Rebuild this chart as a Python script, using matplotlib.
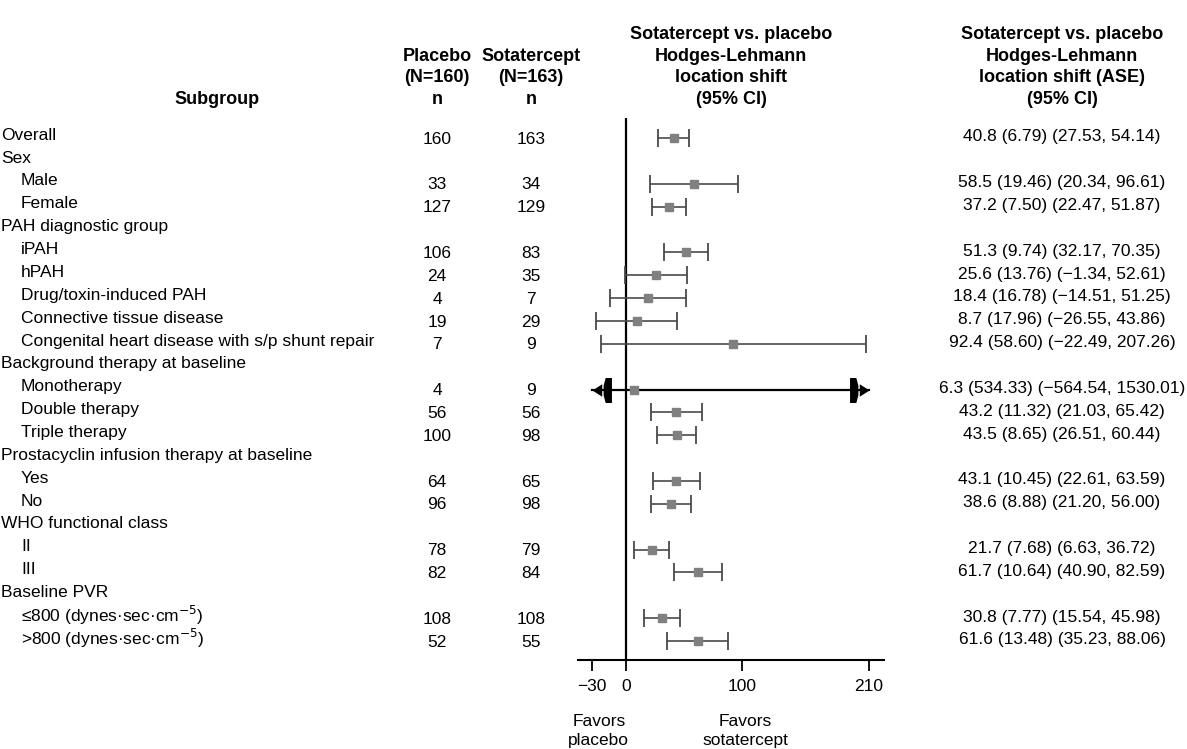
import matplotlib
matplotlib.use("Agg")
import matplotlib.pyplot as plt
from matplotlib.path import Path
from matplotlib.transforms import blended_transform_factory

plt.rcParams['font.family'] = ['Liberation Sans', 'DejaVu Sans']

# subgroup rows, top to bottom; None marks a heading row
labels = ["Overall", "Sex", "Male", "Female", "PAH diagnostic group", "iPAH", "hPAH",
          "Drug/toxin-induced PAH", "Connective tissue disease",
          "Congenital heart disease with s/p shunt repair", "Background therapy at baseline",
          "Monotherapy", "Double therapy", "Triple therapy",
          "Prostacyclin infusion therapy at baseline", "Yes", "No", "WHO functional class",
          "II", "III", "Baseline PVR",
          "\u2264800 (dynes\u00b7sec\u00b7cm$^{-5}$)", ">800 (dynes\u00b7sec\u00b7cm$^{-5}$)"]
indented = [0, 0, 1, 1, 0, 1, 1, 1, 1, 1, 0, 1, 1, 1, 0, 1, 1, 0, 1, 1, 0, 1, 1]
n_placebo = [160, None, 33, 127, None, 106, 24, 4, 19, 7, None, 4, 56, 100, None, 64, 96,
             None, 78, 82, None, 108, 52]
n_sotatercept = [163, None, 34, 129, None, 83, 35, 7, 29, 9, None, 9, 56, 98, None, 65, 98,
                 None, 79, 84, None, 108, 55]
shift = [40.8, None, 58.5, 37.2, None, 51.3, 25.6, 18.4, 8.7, 92.4, None, 6.3, 43.2, 43.5,
         None, 43.1, 38.6, None, 21.7, 61.7, None, 30.8, 61.6]
ase = [6.79, None, 19.46, 7.50, None, 9.74, 13.76, 16.78, 17.96, 58.60, None, 534.33, 11.32,
       8.65, None, 10.45, 8.88, None, 7.68, 10.64, None, 7.77, 13.48]
ci_low = [27.53, None, 20.34, 22.47, None, 32.17, -1.34, -14.51, -26.55, -22.49, None,
          -564.54, 21.03, 26.51, None, 22.61, 21.20, None, 6.63, 40.90, None, 15.54, 35.23]
ci_high = [54.14, None, 96.61, 51.87, None, 70.35, 52.61, 51.25, 43.86, 207.26, None,
           1530.01, 65.42, 60.44, None, 63.59, 56.00, None, 36.72, 82.59, None, 45.98, 88.06]

xticks = [-30, 0, 100, 210]

W, H = 1187, 749
fig = plt.figure(figsize=(W / 100, H / 100), dpi=100)
ax = fig.add_axes([578 / W, 1 - 660 / H, 306 / W, (660 - 118) / H])
ax.set_xlim(-42, 223)
ax.set_ylim(22.83, -0.875)

for s in ("left", "top", "right"):
    ax.spines[s].set_visible(False)
ax.spines["bottom"].set_linewidth(1.5)
ax.set_yticks([])
ax.set_xticks(xticks)
ax.tick_params(axis="x", length=8, width=1.3, labelsize=12.5, pad=6)
ax.axvline(0, color="black", lw=1.6, zorder=1)

fs = 12.5
gray_line = "#4a4a4a"
box = "#808080"

# arrow + bar glyph for an interval that runs off the axis
arrow_left = Path([(0, 0), (7, 4.5), (7, -4.5), (0, 0),
                   (8, -3.5), (9.5, -9), (14, -9), (14, 9), (9.5, 9), (8, 3.5), (8, -3.5)],
                  [Path.MOVETO, Path.LINETO, Path.LINETO, Path.CLOSEPOLY,
                   Path.MOVETO, Path.LINETO, Path.LINETO, Path.LINETO, Path.LINETO,
                   Path.LINETO, Path.CLOSEPOLY])
arrow_right = Path(arrow_left.vertices * [-1, 1], arrow_left.codes)

lo_lim, hi_lim = xticks[0], xticks[-1]
for i, (m, lo, hi) in enumerate(zip(shift, ci_low, ci_high)):
    if m is None:
        continue
    if lo >= lo_lim and hi <= hi_lim:
        ax.errorbar(m, i, xerr=[[m - lo], [hi - m]], fmt="none", ecolor=gray_line,
                    elinewidth=1.2, capsize=6.5, capthick=1.3, zorder=2)
    else:
        a, b = max(lo, lo_lim), min(hi, hi_lim)
        ax.plot([a, b], [i, i], color="black", lw=1.6, zorder=2)
        ax.plot([a], [i], marker=arrow_left, ms=28, color="black", mew=0, zorder=3)
        ax.plot([b], [i], marker=arrow_right, ms=28, color="black", mew=0, zorder=3)
    ax.plot(m, i, marker="s", ms=5.5, color=box, mec=box, zorder=4)

# table columns
tr = blended_transform_factory(fig.transFigure, ax.transData)
for i, lab in enumerate(labels):
    x0 = 21 if indented[i] else 1
    fig.text(x0 / W, i - 0.12, lab, transform=tr, ha="left", va="center", fontsize=fs)
    if n_placebo[i] is not None:
        fig.text(437 / W, i + 0.05, str(n_placebo[i]), transform=tr, ha="center",
                 va="center", fontsize=fs)
        fig.text(531 / W, i + 0.05, str(n_sotatercept[i]), transform=tr, ha="center",
                 va="center", fontsize=fs)
    if shift[i] is not None:
        txt = f"{shift[i]:.1f} ({ase[i]:.2f}) ({ci_low[i]:.2f}, {ci_high[i]:.2f})"
        fig.text(1062 / W, i - 0.05, txt.replace("-", "\u2212"), transform=tr,
                 ha="center", va="center", fontsize=fs)

# column headings
hb = 1 - 104 / H
hkw = dict(ha="center", va="baseline", fontsize=13, fontweight="bold", linespacing=1.36)
fig.text(217 / W, hb, "Subgroup", **hkw)
fig.text(437 / W, hb, "Placebo\n(N=160)\nn", **hkw)
fig.text(531 / W, hb, "Sotatercept\n(N=163)\nn", **hkw)
fig.text(731 / W, hb, "Sotatercept vs. placebo\nHodges-Lehmann\nlocation shift\n(95% CI)", **hkw)
fig.text(1062 / W, hb,
         "Sotatercept vs. placebo\nHodges-Lehmann\nlocation shift (ASE)\n(95% CI)", **hkw)

# direction labels under the axis
tb = blended_transform_factory(ax.transData, fig.transFigure)
ax.text(-24, 1 - 731 / H, "Favors\nplacebo", transform=tb, ha="center", va="center",
        fontsize=fs, linespacing=1.3)
ax.text(103, 1 - 731 / H, "Favors\nsotatercept", transform=tb, ha="center", va="center",
        fontsize=fs, linespacing=1.3)

fig.savefig("out.png", dpi=100, facecolor="white")
